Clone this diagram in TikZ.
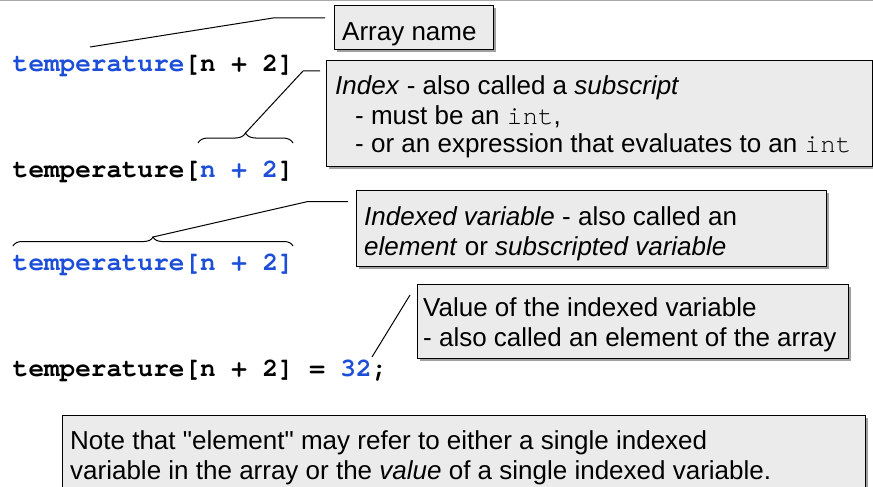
\documentclass[tikz,border=0pt]{standalone}
\usepackage{fontspec}
\setmainfont{Liberation Sans}[Ligatures=TeXOff]
\setmonofont{TeX Gyre Cursor}
\usetikzlibrary{shadows,decorations.pathreplacing}
\definecolor{codeblue}{RGB}{28,78,216}
\definecolor{boxgray}{RGB}{235,235,235}
\definecolor{shadowgray}{RGB}{160,160,160}
\definecolor{topgray}{RGB}{170,170,170}
\tikzset{
  box/.style={draw=black, line width=0.9pt, fill=boxgray, inner sep=0pt, anchor=north west,
    drop shadow={shadow xshift=3pt, shadow yshift=-3pt, fill=shadowgray, opacity=1}},
  txt/.style={anchor=base west, inner sep=0pt, font=\fontsize{26}{30}\selectfont},
  code/.style={anchor=base west, inner sep=0pt, font=\fontsize{26}{30}\selectfont\ttfamily\bfseries},
  conn/.style={line width=1pt, line join=round},
  bracepath/.style={line width=1pt, decorate, decoration={brace, amplitude=#1}},
}
\newcommand{\cb}[1]{{\color{codeblue}#1}}
\newcommand{\ct}[1]{{\ttfamily #1}}
\begin{document}
\begin{tikzpicture}[x=1pt, y=-1pt]
\useasboundingbox (0,0) rectangle (873,487);
\draw[topgray, line width=1.5pt] (0,0.5) -- (873,0.5);

% code lines
\node[code] (c1) at (12.7,71) {\cb{temperature}[n + 2]};
\node[code] (c2) at (12.7,177.7) {temperature[\cb{n + 2}]};
\node[code] (c3) at (12.7,270.7) {\cb{temperature[n + 2]}};
\node[code] (c4) at (12.7,376.7) {temperature[n + 2] = \cb{32};};

% boxes
\node[box, minimum width=159pt, minimum height=44pt] (bArr) at (334,5) {};
\node[box, minimum width=546pt, minimum height=106pt] (bIdx) at (326,60) {};
\node[box, minimum width=470pt, minimum height=76pt] (bVar) at (356,190) {};
\node[box, minimum width=431pt, minimum height=74pt] (bVal) at (417,284) {};
\node[box, minimum width=803pt, minimum height=80pt] (bNote) at (62,415) {};

% box texts
\node[txt] (tArr) at (342,40.7) {Array name};
\node[txt] (tIdx1) at (335,95) {\textit{Index} - also called a \textit{subscript}};
\node[txt] (tIdx2) at (355,124) {- must be an \ct{int},};
\node[txt] (tIdx3) at (355,152) {- or an expression that evaluates to an \ct{int}};
\node[txt] (tVar1) at (364,225) {\textit{Indexed variable} - also called an};
\node[txt] (tVar2) at (364,255) {\textit{element} or \textit{subscripted variable}};
\node[txt] (tVal1) at (423,316.7) {Value of the indexed variable};
\node[txt] (tVal2) at (423,346.7) {- also called an element of the array};
\node[txt] (tNote1) at (70,449) {Note that "element" may refer to either a single indexed};
\node[txt] (tNote2) at (70,479) {variable in the array or the \textit{value} of a single indexed variable.};

% braces
\draw[bracepath=10pt] (198,143) -- (293,143);
\draw[bracepath=9pt] (13,246) -- (293,246);

% connector points
\coordinate (aS) at (90,47);
\coordinate (aK) at (273,18);
\coordinate (aE) at (325,18);
\coordinate (iS) at (245.5,133);
\coordinate (iK) at (303,71);
\coordinate (iE) at (320,71);
\coordinate (vS) at (153,237);
\coordinate (vK) at (307,201.7);
\coordinate (vE) at (348,201.7);
\coordinate (lS) at (372,357);
\coordinate (lE) at (410,295);

\draw[conn] (aS) -- (aK) -- (aE);
\draw[conn] (iS) -- (iK) -- (iE);
\draw[conn] (vS) -- (vK) -- (vE);
\draw[conn] (lS) -- (lE);
\end{tikzpicture}
\end{document}
